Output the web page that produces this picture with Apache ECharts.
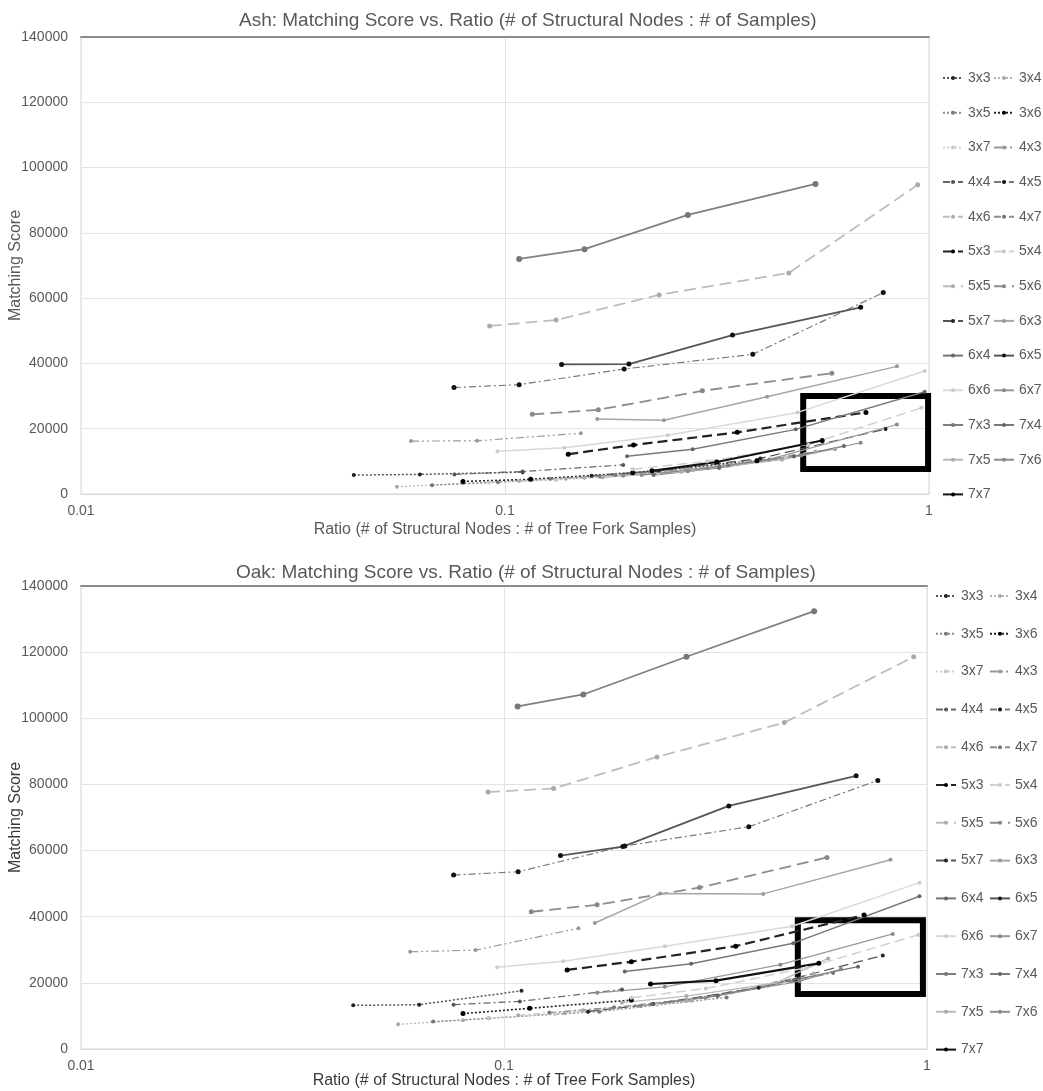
<!DOCTYPE html>
<html>
<head>
<meta charset="utf-8">
<script src="https://cdn.jsdelivr.net/npm/echarts@6/dist/echarts.min.js"></script>
<style>
  html, body { margin: 0; padding: 0; background: #fff; }
  #chart { width: 1043px; height: 1091px; }
</style>
</head>
<body>
<div id="chart"></div>
<script>
// Grid configurations (first digit x second digit)
const configNames = ['3x3','3x4','3x5','3x6','3x7','4x3','4x4','4x5','4x6','4x7',
                     '5x3','5x4','5x5','5x6','5x7','6x3','6x4','6x5','6x6','6x7',
                     '7x3','7x4','7x5','7x6','7x7'];

// Axis tick labels
const xTickLabels = ['0.01', '0.1', '1'];
const yTicks = [0, 20000, 40000, 60000, 80000, 100000, 120000, 140000];

// Ash: [ratio, matching score]
const ash_3x3 = [[0.044,5800],[0.063,6000],[0.11,6700]];
const ash_3x4 = [[0.0556,2200],[0.0796,3250],[0.139,4700],[0.278,7400]];
const ash_3x5 = [[0.0673,2700],[0.0962,3600],[0.168,5300],[0.336,8700]];
const ash_3x6 = [[0.0796,3850],[0.115,4500],[0.2,6500],[0.393,10200]];
const ash_3x7 = [[0.0917,3550],[0.132,4300],[0.23,6200],[0.46,11200]];
const ash_4x3 = [[0.06,16200],[0.086,16300],[0.151,18600]];
const ash_4x4 = [[0.076,6000],[0.11,6900],[0.19,8900]];
const ash_4x5 = [[0.0758,32600],[0.108,33500],[0.191,38300],[0.384,42800],[0.78,61700]];
const ash_4x6 = [[0.108,4000],[0.154,5000],[0.27,7300],[0.54,13000]];
const ash_4x7 = [[0.128,4700],[0.182,5800],[0.32,8400],[0.6,13800]];
const ash_5x3 = [[0.141,12200],[0.201,15000],[0.353,18900],[0.71,25000]];
const ash_5x4 = [[0.2,7600],[0.3,10000],[0.52,15200],[0.96,26400]];
const ash_5x5 = [[0.092,51500],[0.132,53300],[0.231,61000],[0.467,67700],[0.94,94700]];
const ash_5x6 = [[0.116,24400],[0.166,25800],[0.292,31600],[0.59,37000]];
const ash_5x7 = [[0.16,5600],[0.23,7100],[0.4,10900],[0.79,19900]];
const ash_6x3 = [[0.165,23000],[0.237,22600],[0.415,29800],[0.84,39100]];
const ash_6x4 = [[0.224,5800],[0.32,8000],[0.48,11500],[0.63,14700]];
const ash_6x5 = [[0.136,39700],[0.196,39800],[0.344,48700],[0.69,57200]];
const ash_6x6 = [[0.096,13100],[0.138,14200],[0.242,18000],[0.49,25000],[0.977,37700]];
const ash_6x7 = [[0.19,5600],[0.27,7000],[0.42,10600],[0.84,21300]];
const ash_7x3 = [[0.108,72000],[0.154,75000],[0.27,85500],[0.54,95000]];
const ash_7x4 = [[0.194,11600],[0.277,13700],[0.485,19800],[0.977,31300]];
const ash_7x5 = [[0.17,5100],[0.26,6800],[0.45,10500],[0.6,13800]];
const ash_7x6 = [[0.21,5800],[0.3,7900],[0.5,11800],[0.69,15700]];
const ash_7x7 = [[0.222,7100],[0.316,9800],[0.56,16400]];

// Oak: [ratio, matching score]
const oak_3x3 = [[0.044,13200],[0.063,13400],[0.11,17600]];
const oak_3x4 = [[0.0562,7450],[0.08,8700],[0.139,10800],[0.278,14600]];
const oak_3x5 = [[0.068,8300],[0.092,9300],[0.168,11300],[0.336,15600]];
const oak_3x6 = [[0.08,10700],[0.115,12300],[0.2,14800]];
const oak_3x7 = [[0.092,9400],[0.132,10600],[0.23,13400],[0.46,19800]];
const oak_4x3 = [[0.06,29400],[0.0857,29900],[0.15,36500]];
const oak_4x4 = [[0.076,13400],[0.109,14400],[0.19,18000]];
const oak_4x5 = [[0.076,52600],[0.108,53600],[0.193,61400],[0.379,67200],[0.765,81200]];
const oak_4x6 = [[0.108,10200],[0.154,11700],[0.27,14500],[0.54,22800]];
const oak_4x7 = [[0.128,11000],[0.182,12600],[0.32,16000],[0.6,23000]];
const oak_5x3 = [[0.141,23900],[0.2,26400],[0.353,31100],[0.71,40500]];
const oak_5x4 = [[0.2,15500],[0.3,18300],[0.52,24600],[0.953,34500]];
const oak_5x5 = [[0.0917,77700],[0.131,78800],[0.23,88300],[0.46,98700],[0.93,118600]];
const oak_5x6 = [[0.116,41500],[0.166,43600],[0.29,48800],[0.58,57900]];
const oak_5x7 = [[0.158,11300],[0.225,13600],[0.4,18500],[0.786,28300]];
const oak_6x3 = [[0.164,38100],[0.234,47000],[0.41,46900],[0.82,57200]];
const oak_6x4 = [[0.224,13500],[0.32,16200],[0.485,20900],[0.687,24900]];
const oak_6x5 = [[0.136,58500],[0.191,61200],[0.34,73500],[0.68,82600]];
const oak_6x6 = [[0.0963,24700],[0.138,26500],[0.24,31100],[0.48,37100],[0.96,50300]];
const oak_6x7 = [[0.166,17000],[0.24,18800],[0.45,25500],[0.83,34800]];
const oak_7x3 = [[0.1077,103600],[0.154,107200],[0.27,118600],[0.541,132400]];
const oak_7x4 = [[0.193,23400],[0.277,25800],[0.483,32000],[0.96,46200]];
const oak_7x5 = [[0.19,14000],[0.27,16000],[0.44,20000],[0.584,27400]];
const oak_7x6 = [[0.21,13000],[0.3,15500],[0.5,20500],[0.626,24200]];
const oak_7x7 = [[0.222,19650],[0.317,20650],[0.555,25900]];

// Highlighted regions: [ratio, score] corners
const ashBox = [[0.505, 30000], [0.995, 7650]];
const oakBox = [[0.495, 38900], [0.978, 16600]];

const ashSets = [ash_3x3, ash_3x4, ash_3x5, ash_3x6, ash_3x7, ash_4x3, ash_4x4, ash_4x5, ash_4x6, ash_4x7,
                 ash_5x3, ash_5x4, ash_5x5, ash_5x6, ash_5x7, ash_6x3, ash_6x4, ash_6x5, ash_6x6, ash_6x7,
                 ash_7x3, ash_7x4, ash_7x5, ash_7x6, ash_7x7];
const oakSets = [oak_3x3, oak_3x4, oak_3x5, oak_3x6, oak_3x7, oak_4x3, oak_4x4, oak_4x5, oak_4x6, oak_4x7,
                 oak_5x3, oak_5x4, oak_5x5, oak_5x6, oak_5x7, oak_6x3, oak_6x4, oak_6x5, oak_6x6, oak_6x7,
                 oak_7x3, oak_7x4, oak_7x5, oak_7x6, oak_7x7];

// Line look per configuration: line colour, dash, width, marker colour, marker size
const DOT = [2, 2], DASHDOT = [7, 3, 2, 3], DASHDOT2 = [8, 3, 2, 3, 2, 3], DASH = [10, 5], LDASH = [12, 6];
const looks = [
  ['#555555', DOT, 1.5, '#222222', 4],
  ['#b3b3b3', DOT, 1.2, '#aaaaaa', 4],
  ['#8a8a8a', DOT, 1.2, '#777777', 4],
  ['#222222', DOT, 1.6, '#000000', 5],
  ['#cfcfcf', DOT, 1.2, '#c8c8c8', 4],
  ['#999999', DASHDOT2, 1.2, '#999999', 4],
  ['#666666', DASHDOT, 1.2, '#555555', 4],
  ['#7a7a7a', DASHDOT, 1.2, '#111111', 5],
  ['#bdbdbd', DASHDOT, 1.2, '#aaaaaa', 4],
  ['#8c8c8c', DASHDOT, 1.2, '#777777', 4],
  ['#222222', DASH, 2.2, '#000000', 5],
  ['#d0d0d0', DASH, 1.5, '#c8c8c8', 4],
  ['#bdbdbd', LDASH, 1.8, '#aaaaaa', 5],
  ['#8c8c8c', LDASH, 1.8, '#888888', 5],
  ['#555555', DASH, 1.2, '#222222', 4],
  ['#a6a6a6', 'solid', 1.5, '#999999', 4],
  ['#777777', 'solid', 1.2, '#666666', 4],
  ['#555555', 'solid', 1.8, '#111111', 5],
  ['#d9d9d9', 'solid', 1.5, '#cccccc', 4],
  ['#999999', 'solid', 1.2, '#888888', 4],
  ['#808080', 'solid', 1.8, '#777777', 6],
  ['#7a7a7a', 'solid', 1.5, '#666666', 4],
  ['#bbbbbb', 'solid', 1.2, '#aaaaaa', 4],
  ['#8c8c8c', 'solid', 1.2, '#888888', 4],
  ['#111111', 'solid', 2.2, '#000000', 5]
];

const FONT = 'Liberation Sans, Arial, Helvetica, sans-serif';
const GRAY = '#595959';

function buildSeries(sets, gridIdx, box) {
  return configNames.map((name, i) => {
    const [lc, dash, w, mc, ms] = looks[i];
    const s = {
      name: name,
      type: 'line',
      xAxisIndex: gridIdx * 2,
      yAxisIndex: gridIdx,
      data: sets[i],
      symbol: 'circle',
      symbolSize: ms,
      showSymbol: true,
      lineStyle: { color: lc, width: w, type: dash },
      itemStyle: { color: mc },
      emphasis: { disabled: true },
      z: 3
    };
    if (i === configNames.length - 1) {
      s.markArea = {
        silent: true,
        itemStyle: { color: 'rgba(0,0,0,0)', borderColor: '#000', borderWidth: 6 },
        label: { show: false },
        data: [[{ coord: box[0] }, { coord: box[1] }]]
      };
    }
    return s;
  });
}

function xAxes(gridIdx, nameColor, nameGap) {
  return [
    {
      gridIndex: gridIdx,
      type: 'log', logBase: 10, min: 0.01, max: 1,
      axisLine: { show: true, lineStyle: { color: '#d9d9d9', width: 1 } },
      axisTick: { show: false },
      axisLabel: {
        color: GRAY, fontSize: 14, fontFamily: FONT, margin: 10,
        formatter: v => xTickLabels[Math.round(Math.log10(v)) + 2]
      },
      splitLine: { show: true, lineStyle: { color: '#e3e3e3', width: 1 } },
      name: 'Ratio (# of Structural Nodes : # of Tree Fork Samples)',
      nameLocation: 'middle', nameGap: nameGap, nameMoveOverlap: false,
      nameTextStyle: { color: nameColor, fontSize: 16, fontFamily: FONT }
    },
    {
      gridIndex: gridIdx,
      type: 'log', logBase: 10, min: 0.01, max: 1, position: 'top',
      axisLine: { show: true, lineStyle: { color: '#8c8c8c', width: 2 } },
      axisTick: { show: false }, axisLabel: { show: false }, splitLine: { show: false }
    }
  ];
}

function yAxis(gridIdx, nameColor) {
  return {
    gridIndex: gridIdx,
    type: 'value', min: yTicks[0], max: yTicks[yTicks.length - 1], interval: yTicks[1] - yTicks[0],
    axisLine: { show: false }, axisTick: { show: false },
    axisLabel: { color: GRAY, fontSize: 14, fontFamily: FONT, margin: 13, formatter: v => String(v) },
    splitLine: { show: true, lineStyle: { color: '#e3e3e3', width: 1 } },
    name: 'Matching Score', nameLocation: 'middle', nameGap: 57, nameMoveOverlap: false,
    nameTextStyle: { color: nameColor, fontSize: 16, fontFamily: FONT }
  };
}

function legends(top, gap, left1, left2) {
  const base = {
    orient: 'vertical', top: top, itemGap: gap, itemWidth: 20, itemHeight: 5, padding: 0,
    textStyle: { color: GRAY, fontSize: 14, fontFamily: FONT, lineHeight: 14 },
    selectedMode: false
  };
  return [
    Object.assign({}, base, { left: left1, data: configNames.filter((_, i) => i % 2 === 0) }),
    Object.assign({}, base, { left: left2, data: configNames.filter((_, i) => i % 2 === 1) })
  ];
}

const gridBase = { show: true, borderColor: '#d9d9d9', borderWidth: 1, backgroundColor: 'transparent',
                   containLabel: false, outerBoundsMode: 'none' };

const chart = echarts.init(document.getElementById('chart'), null, { renderer: 'canvas' });
chart.setOption({
  animation: false,
  backgroundColor: '#fff',
  textStyle: { fontFamily: FONT },
  title: [
    { text: 'Ash: Matching Score vs. Ratio (# of Structural Nodes : # of Samples)', left: 239, top: 11, padding: 0,
      textStyle: { color: GRAY, fontSize: 19, fontWeight: 'normal', fontFamily: FONT } },
    { text: 'Oak: Matching Score vs. Ratio (# of Structural Nodes : # of Samples)', left: 236, top: 563, padding: 0,
      textStyle: { color: GRAY, fontSize: 19, fontWeight: 'normal', fontFamily: FONT } }
  ],
  legend: legends(71, 20.7, 942, 993).concat(legends(589, 23.8, 935, 989)),
  grid: [
    Object.assign({ left: 81, top: 37, width: 848, height: 457 }, gridBase),
    Object.assign({ left: 81, top: 586, width: 846, height: 463 }, gridBase)
  ],
  xAxis: xAxes(0, GRAY, 28).concat(xAxes(1, '#3a3a3a', 24)),
  yAxis: [yAxis(0, GRAY), yAxis(1, '#3a3a3a')],
  series: buildSeries(ashSets, 0, ashBox).concat(buildSeries(oakSets, 1, oakBox))
});
</script>
</body>
</html>
